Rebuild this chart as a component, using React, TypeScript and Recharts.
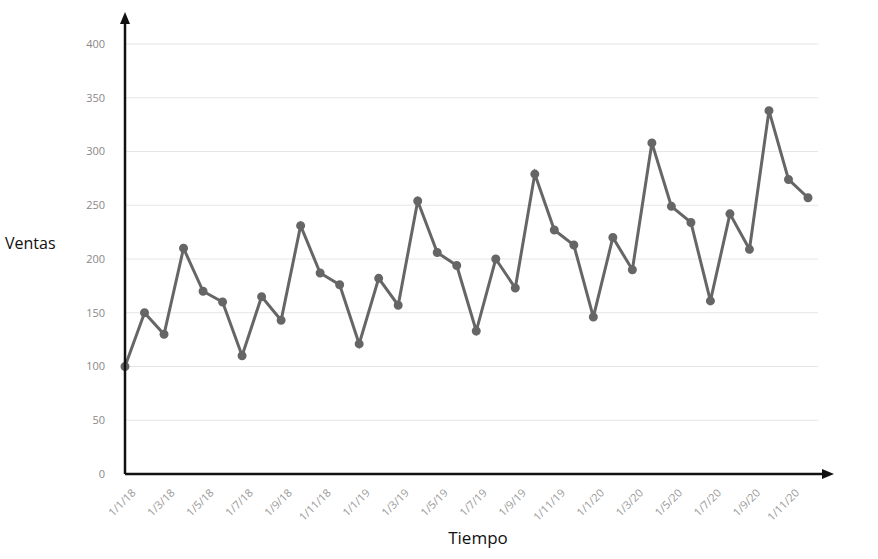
import { LineChart, Line, XAxis, YAxis, CartesianGrid } from "recharts";

const months = [
  "1/1/18", "1/2/18", "1/3/18", "1/4/18", "1/5/18", "1/6/18", "1/7/18", "1/8/18", "1/9/18", "1/10/18", "1/11/18", "1/12/18",
  "1/1/19", "1/2/19", "1/3/19", "1/4/19", "1/5/19", "1/6/19", "1/7/19", "1/8/19", "1/9/19", "1/10/19", "1/11/19", "1/12/19",
  "1/1/20", "1/2/20", "1/3/20", "1/4/20", "1/5/20", "1/6/20", "1/7/20", "1/8/20", "1/9/20", "1/10/20", "1/11/20", "1/12/20",
];
const ventas = [
  100, 150, 130, 210, 170, 160, 110, 165, 143, 231, 187, 176,
  121, 182, 157, 254, 206, 194, 133, 200, 173, 279, 227, 213,
  146, 220, 190, 308, 249, 234, 161, 242, 209, 338, 274, 257,
];
const yTicks = [0, 50, 100, 150, 200, 250, 300, 350, 400];

const data = months.map((m, i) => ({ mes: m, ventas: ventas[i] }));

const App = () => {
  return (
    <div style={{ position: "absolute", left: 0, top: 0, width: 878, height: 559, fontFamily: "Open Sans, sans-serif" }}>
      <LineChart width={878} height={559} data={data} margin={{ top: 44, right: 60, bottom: 55, left: 85 }}>
        <CartesianGrid vertical={false} stroke="#e6e6e6" />
        <XAxis
          dataKey="mes"
          interval={1}
          height={30}
          padding={{ left: 0, right: 10 }}
          axisLine={false}
          tickLine={false}
          angle={-45}
          textAnchor="end"
          dy={6}
          dx={6}
          tick={{ fill: "#999", fontSize: 11 }}
        />
        <YAxis
          domain={[0, 400]}
          ticks={yTicks}
          axisLine={false}
          tickLine={false}
          width={40}
          tick={{ fill: "#888", fontSize: 11 }}
          dx={-12}
        />
        <Line
          type="linear"
          dataKey="ventas"
          stroke="#666"
          strokeWidth={3}
          dot={{ r: 3, fill: "#666", stroke: "#666" }}
          isAnimationActive={false}
        />
      </LineChart>
      <svg width={878} height={559} style={{ position: "absolute", left: 0, top: 0, pointerEvents: "none" }}>
        <line x1={125} y1={474} x2={125} y2={20} stroke="#111" strokeWidth={2.5} />
        <polygon points="125,12 120,24 130,24" fill="#111" />
        <line x1={125} y1={474} x2={824} y2={474} stroke="#111" strokeWidth={2.5} />
        <polygon points="834,474 822,469 822,479" fill="#111" />
        <text x={5} y={249} fontSize={16} fill="#111">Ventas</text>
        <text x={478} y={544} fontSize={17} fill="#111" textAnchor="middle">Tiempo</text>
      </svg>
    </div>
  );
};

export default App;
